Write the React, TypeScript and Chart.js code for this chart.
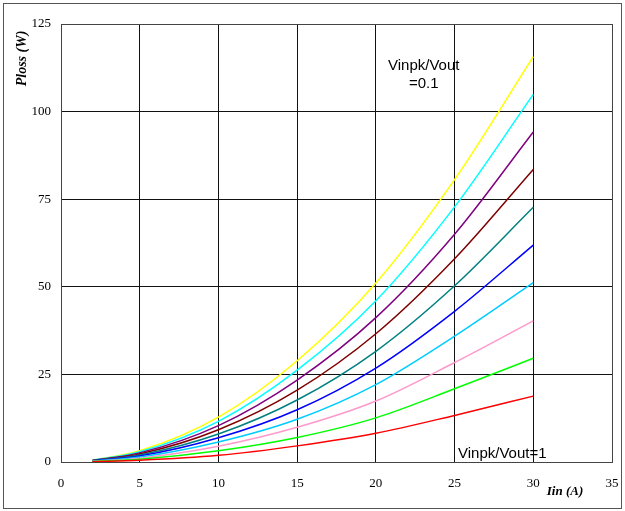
import React, { useEffect, useRef } from "react";
import { Chart, registerables } from "chart.js";

Chart.register(...registerables);

// Input current samples (A)
const currents = [2, 5, 10, 15, 20, 25, 30];

// Power loss (W) per Vinpk/Vout ratio, from 1 (lowest) to 0.1 (highest)
const lossRatio10 = [0.1, 0.5, 1.9, 4.6, 8.2, 13.3, 18.8];
const lossRatio09 = [0.15, 0.8, 3.2, 7.0, 12.6, 20.9, 29.6];
const lossRatio08 = [0.2, 1.1, 4.5, 9.9, 17.4, 28.4, 40.3];
const lossRatio07 = [0.25, 1.4, 5.7, 12.2, 22.1, 35.9, 51.2];
const lossRatio06 = [0.3, 1.7, 6.9, 14.9, 26.8, 43.0, 61.9];
const lossRatio05 = [0.35, 2.0, 8.0, 17.7, 31.6, 50.3, 72.7];
const lossRatio04 = [0.4, 2.3, 9.2, 20.5, 36.6, 58.0, 83.5];
const lossRatio03 = [0.45, 2.6, 10.4, 23.4, 41.2, 65.0, 94.2];
const lossRatio02 = [0.5, 2.9, 11.6, 26.2, 46.0, 72.8, 104.9];
const lossRatio01 = [0.55, 3.2, 12.8, 28.9, 51.1, 80.6, 115.7];

const seriesValues = [
  lossRatio10,
  lossRatio09,
  lossRatio08,
  lossRatio07,
  lossRatio06,
  lossRatio05,
  lossRatio04,
  lossRatio03,
  lossRatio02,
  lossRatio01,
];
const seriesColors = [
  "#FF0000",
  "#00FF00",
  "#FF99CC",
  "#00CCFF",
  "#0000FF",
  "#008080",
  "#800000",
  "#800080",
  "#00FFFF",
  "#FFFF00",
];
const seriesNames = [
  "Vinpk/Vout=1",
  "0.9",
  "0.8",
  "0.7",
  "0.6",
  "0.5",
  "0.4",
  "0.3",
  "0.2",
  "0.1",
];

const xTicks = [0, 5, 10, 15, 20, 25, 30, 35];
const yTicks = [0, 25, 50, 75, 100, 125];

const SERIF = "'Liberation Serif', 'Times New Roman', serif";
const SANS = "'Liberation Sans', Arial, sans-serif";

const decorations = {
  id: "decorations",
  afterDraw(chart: any) {
    const { ctx } = chart;
    ctx.save();
    // outer frame
    ctx.strokeStyle = "#555";
    ctx.lineWidth = 1;
    ctx.strokeRect(3.5, 3.5, 618, 505);

    // axis titles
    ctx.fillStyle = "#000";
    ctx.font = `bold italic 13px ${SERIF}`;
    ctx.textAlign = "center";
    ctx.textBaseline = "middle";
    ctx.fillText("Iin (A)", 565, 492);

    ctx.save();
    ctx.translate(22.5, 58.5);
    ctx.rotate(-Math.PI / 2);
    ctx.font = `bold italic 14px ${SERIF}`;
    ctx.fillText("Ploss (W)", 0, 0);
    ctx.restore();

    // series annotations
    ctx.font = `15px ${SANS}`;
    ctx.textAlign = "left";
    ctx.textBaseline = "middle";
    ctx.fillText("Vinpk/Vout", 388, 66);
    ctx.fillText("=0.1", 409, 84);
    ctx.fillText("Vinpk/Vout=1", 458, 454);
    ctx.restore();
  },
};

export default function App() {
  const canvasRef = useRef<HTMLCanvasElement | null>(null);

  useEffect(() => {
    if (!canvasRef.current) return;
    const chart = new Chart(canvasRef.current, {
      type: "line",
      data: {
        datasets: seriesValues.map((vals, i) => ({
          label: seriesNames[i],
          data: currents.map((x, j) => ({ x, y: vals[j] })),
          borderColor: seriesColors[i],
          backgroundColor: seriesColors[i],
          borderWidth: 1.5,
          pointRadius: 0,
          fill: false,
          cubicInterpolationMode: "monotone" as const,
        })),
      },
      options: {
        animation: false,
        responsive: false,
        maintainAspectRatio: false,
        layout: { padding: { left: 0, top: 24, right: 13, bottom: 0 } },
        plugins: {
          legend: { display: false },
          tooltip: { enabled: false },
          title: { display: false },
        },
        scales: {
          x: {
            type: "linear",
            min: 0,
            max: 35,
            afterBuildTicks(scale: any) {
              scale.ticks = xTicks.map((v) => ({ value: v }));
            },
            afterFit(scale: any) {
              scale.height = 49;
              scale.paddingLeft = 0;
              scale.paddingRight = 0;
            },
            ticks: {
              color: "#000",
              font: { family: SERIF, size: 13 },
              padding: 14,
              maxRotation: 0,
            },
            grid: {
              color: (c: any) =>
                c.tick && (c.tick.value === 35 || c.tick.value === 0) ? "#444" : "#111",
              lineWidth: 1,
              drawTicks: false,
            },
            border: { display: true, color: "#444", width: 1 },
          },
          y: {
            type: "linear",
            min: 0,
            max: 125,
            afterBuildTicks(scale: any) {
              scale.ticks = yTicks.map((v) => ({ value: v }));
            },
            afterFit(scale: any) {
              scale.width = 61;
              scale.paddingTop = 0;
              scale.paddingBottom = 0;
            },
            ticks: {
              color: "#000",
              font: { family: SERIF, size: 13 },
              padding: 10,
            },
            grid: {
              color: (c: any) =>
                c.tick && (c.tick.value === 125 || c.tick.value === 0) ? "#444" : "#111",
              lineWidth: 1,
              drawTicks: false,
            },
            border: { display: true, color: "#444", width: 1 },
          },
        },
      },
      plugins: [decorations],
    });
    return () => chart.destroy();
  }, []);

  return (
    <div style={{ position: "absolute", left: 0, top: 0, width: 625, height: 511, background: "#fff" }}>
      <canvas ref={canvasRef} width={625} height={511} style={{ width: 625, height: 511 }} />
    </div>
  );
}
